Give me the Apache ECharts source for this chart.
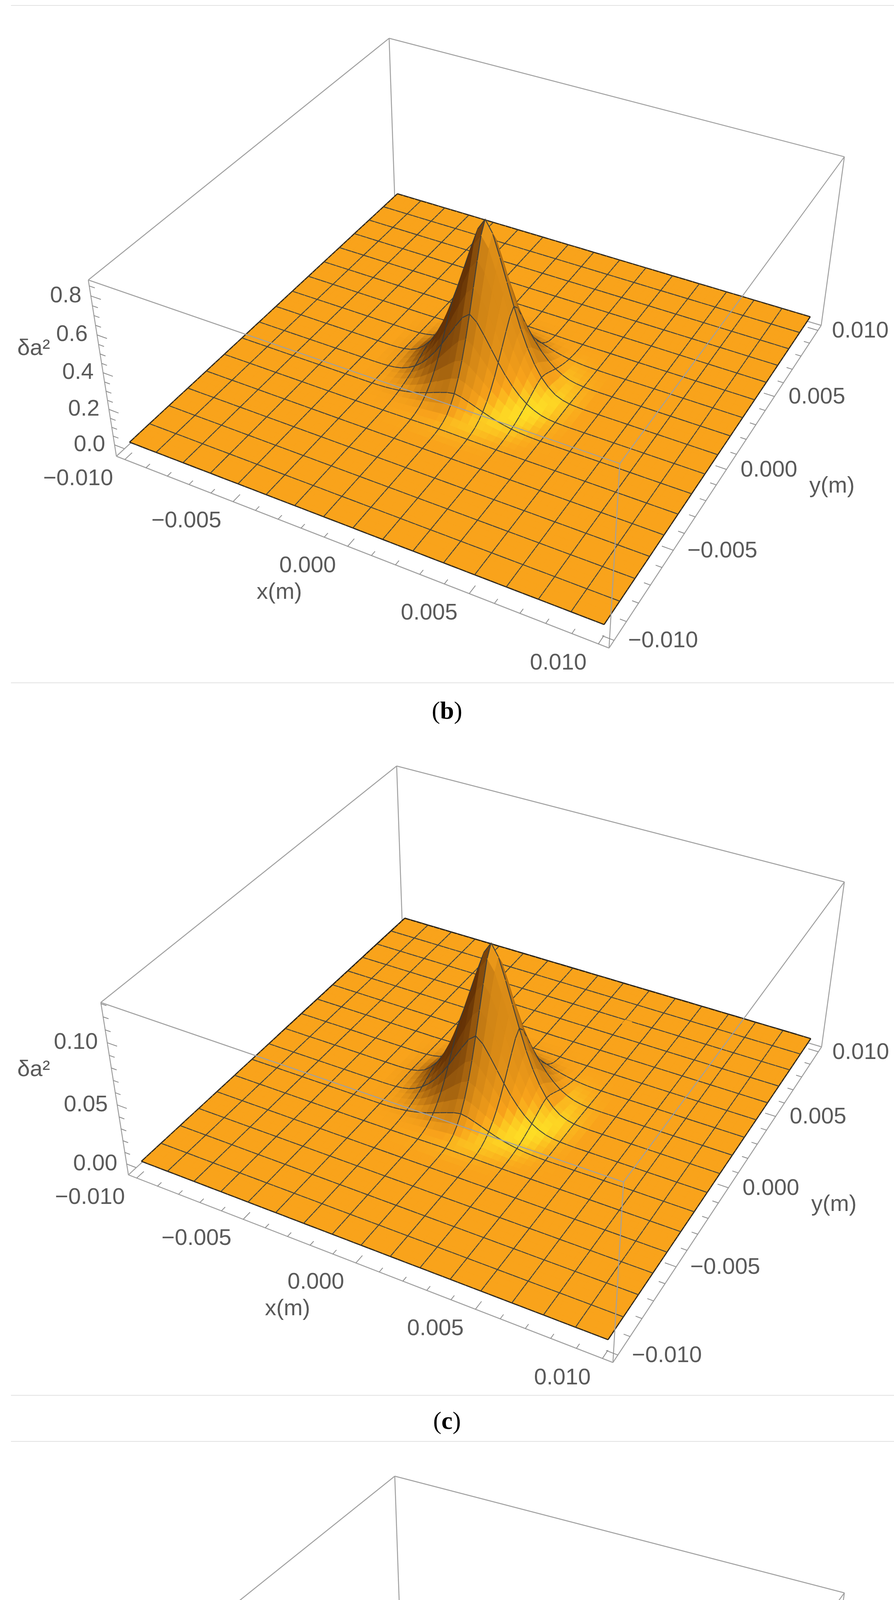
<!DOCTYPE html>
<html>
<head>
<meta charset="utf-8">
<script src="https://cdn.jsdelivr.net/npm/echarts@6/dist/echarts.min.js"></script>
<style>
  html, body { margin: 0; padding: 0; background: #fff; }
  #main { width: 2288px; height: 5541px; }
</style>
</head>
<body>
<div id="main"></div>
<script>
// 面板名称
var panelNames = ['b', 'c', 'd'];
// 各面板峰值 δa²
var peakValues = [0.86, 0.128, 0.166];
// z 轴显示范围
var zRanges = [[-0.065, 0.88], [-0.0095, 0.131], [-0.0115, 0.17]];
// z 轴刻度
var zTicks = [
    [0.0, 0.2, 0.4, 0.6, 0.8],
    [0.00, 0.05, 0.10],
    [0.00, 0.05, 0.10, 0.15]
];
var zTickLabels = [
    ['0.0', '0.2', '0.4', '0.6', '0.8'],
    ['0.00', '0.05', '0.10'],
    ['0.00', '0.05', '0.10', '0.15']
];
var zMinorStep = [0.05, 0.01, 0.01];
// x / y 轴刻度
var xyTicks = [-0.010, -0.005, 0.000, 0.005, 0.010];
var xyTickLabels = ['\u22120.010', '\u22120.005', '0.000', '0.005', '0.010'];
// 峰的截面形状(沿 x、y 方向, 65 个采样点, 步长 0.0003125 m)
var profileX = [0,0,0,0,0,0,0,0,0,0,0,0,0,0,0,0,0,0,0,
    0.002,0.006,0.016,0.035,0.07,0.12,0.19,0.28,0.39,0.52,0.66,0.80,0.93,
    1,
    0.93,0.80,0.66,0.52,0.39,0.28,0.19,0.12,0.07,0.035,0.016,0.006,0.002,
    0,0,0,0,0,0,0,0,0,0,0,0,0,0,0,0,0,0,0];
var profileY = profileX.slice(0);

// 画面布局(每个面板的立方体外框包围盒)
var boxFrames = [
    {x0: 226, x1: 2161, y0: 98, y1: 1659, label: 1827},
    {x0: 258, x1: 2161, y0: 1961, y1: 3488, label: 3645},
    {x0: 250, x1: 2161, y0: 3779, y1: 5316, label: 5480}
];
var separators = [14, 1748, 3572, 3690];

var N = profileX.length;
var XMIN = -0.01, XMAX = 0.01, PAD = 0.0004;
var viewPoint = [1.3, -2.4, 2];

function sub(a, b) { return [a[0]-b[0], a[1]-b[1], a[2]-b[2]]; }
function dot(a, b) { return a[0]*b[0] + a[1]*b[1] + a[2]*b[2]; }
function cross(a, b) { return [a[1]*b[2]-a[2]*b[1], a[2]*b[0]-a[0]*b[2], a[0]*b[1]-a[1]*b[0]]; }
function norm(a) { var l = Math.sqrt(dot(a, a)); return [a[0]/l, a[1]/l, a[2]/l]; }

/**
 * 建立透视投影
 */
function makeProjection(zr, frame) {
    var lo = XMIN - PAD, hi = XMAX + PAD;
    function toBox(x, y, z) {
        return [(x - lo)/(hi - lo) - 0.5, (y - lo)/(hi - lo) - 0.5, ((z - zr[0])/(zr[1] - zr[0]) - 0.5)*0.4];
    }
    var C = viewPoint;
    var f = norm([-C[0], -C[1], -C[2]]);
    var r = norm(cross(f, [0, 0, 1]));
    var u = cross(r, f);
    function raw(p) {
        var d = sub(p, C);
        var depth = dot(d, f);
        return [dot(d, r)/depth, dot(d, u)/depth, depth];
    }
    var sx0 = Infinity, sx1 = -Infinity, sy0 = Infinity, sy1 = -Infinity;
    [lo, hi].forEach(function (x) { [lo, hi].forEach(function (y) { zr.forEach(function (z) {
        var s = raw(toBox(x, y, z));
        sx0 = Math.min(sx0, s[0]); sx1 = Math.max(sx1, s[0]);
        sy0 = Math.min(sy0, s[1]); sy1 = Math.max(sy1, s[1]);
    }); }); });
    var kx = (frame.x1 - frame.x0)/(sx1 - sx0), ky = (frame.y1 - frame.y0)/(sy1 - sy0);
    return {
        lo: lo, hi: hi,
        box: toBox,
        depth: function (x, y, z) { return raw(toBox(x, y, z))[2]; },
        pt: function (x, y, z) {
            var s = raw(toBox(x, y, z));
            return [frame.x0 + (s[0] - sx0)*kx, frame.y0 + (sy1 - s[1])*ky];
        }
    };
}

var baseColor = [249, 163, 27], yellowColor = [255, 236, 40], darkColor = [100, 50, 6];
var light = norm([0.5, -0.28, 1]);
function shade(n) {
    var t = dot(n, light) - light[2];
    var c = baseColor, target, k;
    if (t >= 0) { target = yellowColor; k = Math.min(1, t*6); }
    else { target = darkColor; k = Math.min(1, -t*1.3); }
    return 'rgb(' + [0, 1, 2].map(function (i) { return Math.round(c[i] + (target[i] - c[i])*k); }).join(',') + ')';
}

/**
 * 生成一个面板的曲面四边形(按远近排序)
 */
function buildQuads(pi, proj) {
    var step = (XMAX - XMIN)/(N - 1);
    var peak = peakValues[pi];
    function val(i, j) { return peak*profileX[i]*profileY[j]; }
    var quads = [];
    for (var i = 0; i < N - 1; i++) {
        for (var j = 0; j < N - 1; j++) {
            var cs = [[i, j], [i+1, j], [i+1, j+1], [i, j+1]];
            var pts3 = cs.map(function (c) { return [XMIN + c[0]*step, XMIN + c[1]*step, val(c[0], c[1])]; });
            var b = pts3.map(function (p) { return proj.box(p[0], p[1], p[2]); });
            var n = norm(cross(sub(b[2], b[0]), sub(b[3], b[1])));
            if (n[2] < 0) n = [-n[0], -n[1], -n[2]];
            var cx = 0, cy = 0, cz = 0;
            pts3.forEach(function (p) { cx += p[0]/4; cy += p[1]/4; cz += p[2]/4; });
            var lines = [];
            var P = pts3.map(function (p) { return proj.pt(p[0], p[1], p[2]); });
            // 网格线: 每 4 个采样一条, 四边形两侧都画, 避免被相邻四边形覆盖
            if (i % 4 === 0) lines.push([P[0], P[3], i === 0]);
            if ((i + 1) % 4 === 0) lines.push([P[1], P[2], i + 1 === N - 1]);
            if (j % 4 === 0) lines.push([P[0], P[1], j === 0]);
            if ((j + 1) % 4 === 0) lines.push([P[3], P[2], j + 1 === N - 1]);
            quads.push({pts: P, color: shade(n), lines: lines, depth: proj.depth(cx, cy, cz)});
        }
    }
    quads.sort(function (a, b) { return b.depth - a.depth; });
    return quads;
}

function boxEdges(pi, proj) {
    var lo = proj.lo, hi = proj.hi, zr = zRanges[pi];
    var z0 = zr[0], z1 = zr[1];
    var back = [
        [[lo, lo, z0], [hi, lo, z0]], [[hi, lo, z0], [hi, hi, z0]],
        [[hi, hi, z0], [lo, hi, z0]], [[lo, hi, z0], [lo, lo, z0]],
        [[lo, lo, z0], [lo, lo, z1]], [[hi, hi, z0], [hi, hi, z1]], [[lo, hi, z0], [lo, hi, z1]]
    ];
    var front = [
        [[hi, lo, z0], [hi, lo, z1]],
        [[lo, lo, z1], [hi, lo, z1]], [[hi, lo, z1], [hi, hi, z1]],
        [[hi, hi, z1], [lo, hi, z1]], [[lo, hi, z1], [lo, lo, z1]]
    ];
    function map(list) { return list.map(function (e) { return [proj.pt.apply(null, e[0]), proj.pt.apply(null, e[1])]; }); }
    return {back: map(back), front: map(front)};
}

function tickItems(pi, proj) {
    var lo = proj.lo, hi = proj.hi, zr = zRanges[pi], z0 = zr[0];
    var items = [];
    var font = '"Liberation Sans", Arial, sans-serif';
    var tl = 0.00045;
    // x/y 次刻度与主刻度
    for (var k = -10; k <= 10; k++) {
        var v = k*0.001;
        var major = (k % 5 === 0);
        var len = major ? tl : tl*0.55;
        items.push({type: 'line', a: proj.pt(v, lo, z0), b: proj.pt(v, lo + len, z0)});
        items.push({type: 'line', a: proj.pt(hi, v, z0), b: proj.pt(hi - len, v, z0)});
    }
    xyTicks.forEach(function (v, idx) {
        var p = proj.pt(v, lo, z0);
        items.push({type: 'text', x: p[0] - 30, y: p[1] + 50, text: xyTickLabels[idx], align: 'right', font: font});
        var q = proj.pt(hi, v, z0);
        items.push({type: 'text', x: q[0] + 36, y: q[1] + 2, text: xyTickLabels[idx], align: 'left', font: font});
    });
    var px = proj.pt(0, lo, z0);
    items.push({type: 'text', x: px[0] - 175, y: px[1] + 118, text: 'x(m)', align: 'center', font: font});
    var py = proj.pt(hi, 0, z0);
    items.push({type: 'text', x: py[0] + 270, y: py[1] + 43, text: 'y(m)', align: 'center', font: font});
    // z 轴
    var zs = zMinorStep[pi];
    for (var z = 0; z <= zr[1] + 1e-9; z += zs) {
        var isMajor = zTicks[pi].some(function (t) { return Math.abs(t - z) < 1e-9; });
        var l2 = isMajor ? tl : tl*0.55;
        items.push({type: 'line', a: proj.pt(lo, lo, z), b: proj.pt(lo + l2, lo, z)});
    }
    zTicks[pi].forEach(function (z, idx) {
        var p = proj.pt(lo, lo, z);
        items.push({type: 'text', x: p[0] - 24, y: p[1], text: zTickLabels[pi][idx], align: 'right', font: font});
    });
    var pz = proj.pt(lo, lo, zr[1]*0.6);
    items.push({type: 'text', x: 128, y: pz[1], text: '\u03b4a\u00b2', align: 'right', font: font});
    return items;
}

var myChart = echarts.init(document.getElementById('main'), null, {renderer: 'canvas', width: 2288, height: 5541});

var series = [];
var graphics = [];
panelNames.forEach(function (name, pi) {
    var proj = makeProjection(zRanges[pi], boxFrames[pi]);
    var quads = buildQuads(pi, proj);
    var edges = boxEdges(pi, proj);
    var ticks = tickItems(pi, proj);
    function edgeSeries(list, z) {
        return {
            type: 'custom', coordinateSystem: 'none', silent: true, z: z, animation: false,
            data: list.map(function (e, i) { return i; }),
            renderItem: function (params) {
                var e = list[params.dataIndex];
                return {type: 'line', shape: {x1: e[0][0], y1: e[0][1], x2: e[1][0], y2: e[1][1]},
                    style: {stroke: '#a0a0a0', lineWidth: 2.5}};
            }
        };
    }
    series.push(edgeSeries(edges.back, 1));
    series.push({
        type: 'custom', coordinateSystem: 'none', silent: true, z: 2, animation: false,
        data: quads.map(function (q, i) { return i; }),
        renderItem: function (params) {
            var q = quads[params.dataIndex];
            var children = [{type: 'polygon', shape: {points: q.pts}, style: {fill: q.color, stroke: q.color, lineWidth: 1.2}}];
            q.lines.forEach(function (l) {
                children.push({type: 'line', shape: {x1: l[0][0], y1: l[0][1], x2: l[1][0], y2: l[1][1]},
                    style: {stroke: l[2] ? '#1a1a1a' : '#333b40', lineWidth: l[2] ? 3 : 2.2, opacity: 0.9}});
            });
            return {type: 'group', z2: params.dataIndex, children: children};
        }
    });
    series.push(edgeSeries(edges.front, 3));
    series.push({
        type: 'custom', coordinateSystem: 'none', silent: true, z: 4, animation: false,
        data: ticks.map(function (t, i) { return i; }),
        renderItem: function (params) {
            var t = ticks[params.dataIndex];
            if (t.type === 'line') {
                return {type: 'line', shape: {x1: t.a[0], y1: t.a[1], x2: t.b[0], y2: t.b[1]},
                    style: {stroke: '#8a8a8a', lineWidth: 2}};
            }
            return {type: 'text', style: {x: t.x, y: t.y, text: t.text, fill: '#5a5a5a',
                fontSize: 58, fontFamily: t.font, align: t.align, verticalAlign: 'middle'}};
        }
    });
    graphics.push({
        type: 'text', left: 'center', top: boxFrames[pi].label - 36,
        style: {text: '({n|' + name + '})', fill: '#000', fontSize: 64, fontFamily: '"Liberation Serif", serif',
            rich: {n: {fontWeight: 'bold', fontSize: 64, fontFamily: '"Liberation Serif", serif'}}}
    });
});
separators.forEach(function (y) {
    graphics.push({type: 'line', shape: {x1: 28, y1: y, x2: 2288, y2: y}, style: {stroke: '#e2e2e2', lineWidth: 2}});
});

myChart.setOption({
    animation: false,
    backgroundColor: '#ffffff',
    graphic: graphics,
    series: series
});
</script>
</body>
</html>
